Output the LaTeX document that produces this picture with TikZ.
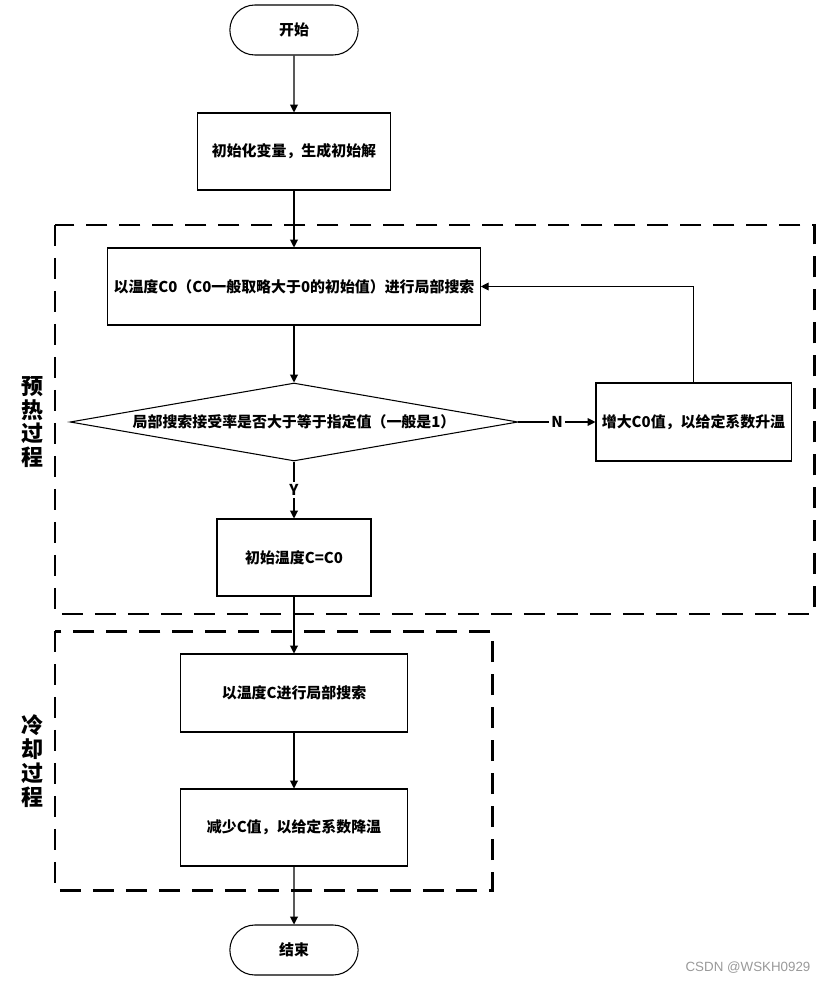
\documentclass[tikz,border=0pt]{standalone}
\usepackage{fontspec}
\setmainfont{Noto Sans CJK SC}
\newfontfamily\markfont{Liberation Sans}
\usetikzlibrary{shapes.geometric,shapes.misc,arrows.meta}

\begin{document}
\begin{tikzpicture}[x=0.02cm, y=-0.02cm, font=\bfseries\fontsize{8.5}{10}\selectfont,
    box/.style={shape=rectangle, draw=black, line width=0.6pt, minimum height=1.54cm},
    term/.style={shape=rounded rectangle, draw=black, line width=0.6pt, minimum width=2.8cm, minimum height=1cm},
    flow/.style={-{Triangle[length=4.5pt,width=4.5pt]}, line width=0.6pt},
    stage/.style={draw=black, line width=1.7pt, dash pattern=on 0.42cm off 0.24cm},
    side/.style={font=\bfseries\fontsize{12.5}{13.6}\selectfont, align=center}]
      \useasboundingbox (0,0) rectangle (824,983);
      % frames of the two stages
      \draw [stage] (55,225) rectangle (814,614);
      \draw [stage] (55,631) rectangle (492,890);
      \node (heat) [side] at (32,422) {预\\热\\过\\程};
      \node (chill) [side] at (32,761) {冷\\却\\过\\程};
      % flow
      \node (start) [term] at (294,30) {开始};
      \node (init) [box, minimum width=3.86cm] at (294,151.5) {初始化变量，生成初始解};
      \node (search0) [box, minimum width=7.44cm] at (294,286.5) {以温度C0（C0一般取略大于0的初始值）进行局部搜索};
      \node (check) [shape=diamond, draw=black, line width=0.6pt, aspect=5.7, inner sep=0pt,
        minimum width=8.96cm, minimum height=1.56cm] at (294,422) {局部搜索接受率是否大于等于指定值（一般是1）};
      \node (raise) [box, minimum width=3.86cm, minimum height=1.56cm] at (693.5,422) {增大C0值，以给定系数升温};
      \node (initT) [box, minimum width=3.08cm] at (294,557.5) {初始温度C=C0};
      \node (searchC) [box, minimum width=4.54cm, minimum height=1.56cm] at (294,693) {以温度C进行局部搜索};
      \node (cool) [box, minimum width=4.54cm] at (294,827.5) {减少C值，以给定系数降温};
      \node (end) [term] at (294,950) {结束};
      \draw [flow] (start) -- (init);
      \draw [flow] (init) -- (search0);
      \draw [flow] (search0) -- (check);
      \draw [flow] (check.east) -- (raise.west) node [midway, fill=white, inner sep=1.5pt] {N};
      \draw [flow] (raise.north) |- (search0.east);
      \draw [flow] (check.south) -- (initT.north) node [midway, fill=white, inner sep=1.5pt] {Y};
      \draw [flow] (initT) -- (searchC);
      \draw [flow] (searchC) -- (cool);
      \draw [flow] (cool) -- (end);
      \node (mark) [font=\markfont\fontsize{7.6}{9}\selectfont, text=black!40] at (748,968) {CSDN @WSKH0929};
\end{tikzpicture}
\end{document}
